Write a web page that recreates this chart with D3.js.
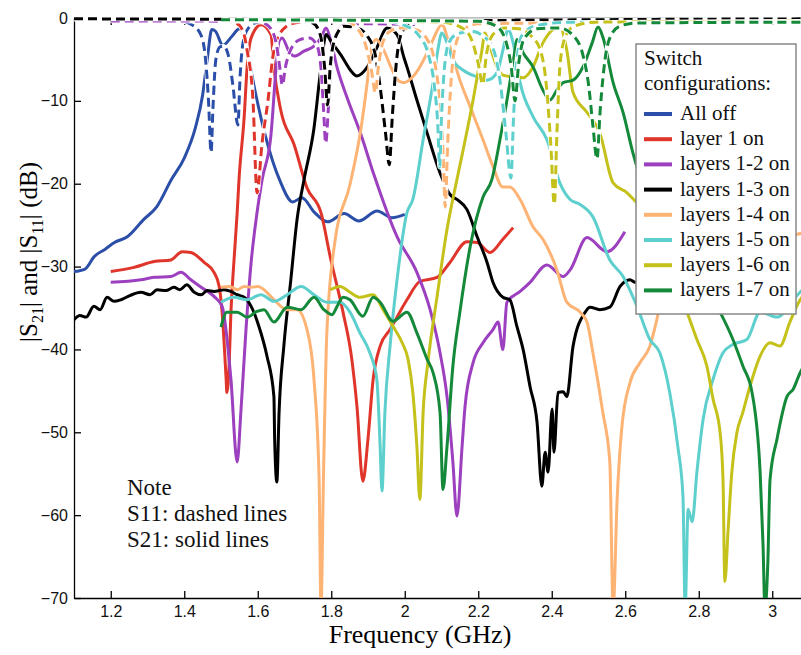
<!DOCTYPE html>
<html>
<head>
<meta charset="utf-8">
<script src="https://cdn.jsdelivr.net/npm/d3@7"></script>
<style>
  body { margin: 0; background: #fff; }
  svg { display: block; }
</style>
</head>
<body>
<script>
// frequency (GHz), level (dB)
const configNames = ["All off", "layer 1 on", "layers 1-2 on", "layers 1-3 on",
  "layers 1-4 on", "layers 1-5 on", "layers 1-6 on", "layers 1-7 on"];
const configColors = ["#2b4fa8", "#e0352b", "#9c40bf", "#000000",
  "#fdb374", "#5dcfcd", "#c5c11b", "#14893a"];

const s21AllOff = [[1.10,-30.6],[1.13,-30.3],[1.155,-28.8],[1.185,-27.9],[1.21,-27.1],[1.245,-26.4],
  [1.29,-24.3],[1.325,-22.8],[1.365,-19.5],[1.40,-16.9],[1.43,-13.3],[1.45,-9.3],[1.463,-4.8],
  [1.475,-1.4],[1.485,-1.6],[1.505,-3.3],[1.53,-2.2],[1.55,-1.3],[1.565,-2.5],[1.578,-5.5],
  [1.595,-9.3],[1.62,-14.1],[1.66,-19.6],[1.695,-22.2],[1.72,-21.7],[1.755,-23.5],[1.79,-24.6],
  [1.835,-23.6],[1.875,-24.5],[1.925,-23.3],[1.965,-24.1],[2.0,-23.7]];
const s11AllOff = [[1.10,-0.15],[1.30,-0.15],[1.38,-0.3],[1.42,-0.8],[1.445,-2],[1.458,-5],
  [1.466,-10],[1.473,-16.2],[1.478,-11],[1.486,-5],[1.497,-3.5],[1.507,-3.4],[1.52,-4.5],
  [1.532,-8],[1.546,-12.9],[1.552,-7],[1.56,-3],[1.575,-1.2],[1.6,-0.5],[1.7,-0.3],[2.0,-0.3]];

const s21Layer1 = [[1.20,-30.6],[1.263,-30.1],[1.318,-29.4],[1.364,-29.2],[1.394,-28.2],[1.418,-28.3],
  [1.454,-29.5],[1.481,-30.7],[1.495,-32.4],[1.503,-35.5],[1.514,-43.6],[1.516,-45.2],[1.522,-42],
  [1.527,-35.5],[1.535,-29.5],[1.544,-23.5],[1.549,-19.5],[1.563,-12],[1.571,-6],[1.582,-2.4],
  [1.609,-0.8],[1.636,-2],[1.644,-6],[1.663,-11.2],[1.699,-15.3],[1.734,-20.5],[1.772,-23.5],
  [1.799,-29.2],[1.832,-35.5],[1.856,-41.2],[1.87,-46.9],[1.886,-55.9],[1.9,-50.8],[1.914,-43.6],
  [1.933,-39.6],[1.96,-37.6],[2.006,-34],[2.041,-31.8],[2.088,-31.3],[2.123,-29.5],[2.169,-27],
  [2.197,-27.1],[2.232,-28.3],[2.267,-26.7],[2.295,-25.3]];
const s11Layer1 = [[1.20,-0.3],[1.50,-0.3],[1.54,-0.6],[1.56,-1.6],[1.571,-3.9],[1.587,-9.9],
  [1.598,-21.1],[1.612,-15],[1.628,-9.9],[1.641,-4.7],[1.661,-1.8],[1.70,-0.6],[1.8,-0.3],[2.3,-0.3]];

const s21Layers12 = [[1.20,-31.9],[1.282,-31.6],[1.318,-31.3],[1.364,-31.2],[1.391,-30.7],[1.418,-31.6],
  [1.446,-32.5],[1.481,-33.6],[1.503,-34.8],[1.527,-43.6],[1.544,-53.6],[1.554,-47.6],[1.568,-37.6],
  [1.582,-29.5],[1.598,-23.5],[1.612,-19.5],[1.636,-14.1],[1.65,-6],[1.658,-2.8],[1.666,-2.4],
  [1.685,-4],[1.699,-4.6],[1.726,-4],[1.753,-3.4],[1.772,-2.4],[1.786,-1.2],[1.799,-2.8],[1.816,-6],
  [1.843,-9.6],[1.881,-14.1],[1.916,-18.9],[1.979,-26.4],[2.033,-30.7],[2.069,-35.2],[2.096,-40.4],
  [2.115,-45.7],[2.131,-53.6],[2.142,-60.1],[2.156,-51.7],[2.164,-46.9],[2.186,-41.6],[2.213,-39.2],
  [2.24,-37.6],[2.254,-36.7],[2.267,-40],[2.278,-34.3],[2.314,-33],[2.341,-31.9],[2.387,-29.8],
  [2.431,-31.2],[2.45,-30.4],[2.496,-26.5],[2.55,-28.2],[2.599,-25.8]];
const s11Layers12 = [[1.20,-0.35],[1.60,-0.4],[1.63,-1],[1.65,-3],[1.66,-6],[1.667,-8.1],[1.675,-6],
  [1.69,-3.8],[1.715,-2.6],[1.74,-2.4],[1.76,-3.2],[1.772,-6],[1.779,-11],[1.785,-15.1],[1.792,-11],
  [1.80,-5],[1.815,-1.8],[1.84,-0.8],[1.9,-0.7],[2.03,-0.8]];

const s21Layers13 = [[1.10,-36.4],[1.116,-35.9],[1.133,-36.1],[1.154,-34.8],[1.171,-35.2],[1.19,-33.7],
  [1.209,-34.2],[1.228,-34],[1.252,-33.5],[1.282,-33.1],[1.307,-33.4],[1.326,-32.8],[1.35,-32.9],
  [1.372,-32.5],[1.388,-32.8],[1.407,-32.2],[1.427,-33.1],[1.446,-33.4],[1.462,-32.9],[1.481,-33],
  [1.508,-32.8],[1.527,-33],[1.544,-33.4],[1.563,-33.7],[1.582,-34.8],[1.603,-37.2],[1.625,-40.8],
  [1.644,-45.7],[1.646,-50.8],[1.652,-56],[1.658,-47.6],[1.671,-39.6],[1.69,-31.6],[1.707,-24.3],
  [1.726,-19.5],[1.753,-13.3],[1.772,-6],[1.786,-2],[1.799,-2.8],[1.827,-4.5],[1.854,-6.4],[1.87,-7],
  [1.897,-6],[1.924,-3.6],[1.952,-1.2],[1.979,-2],[1.998,-4.8],[2.006,-5.9],[2.033,-9.9],
  [2.061,-13.9],[2.096,-18.7],[2.123,-21.3],[2.142,-21.9],[2.169,-23.1],[2.197,-26.4],[2.224,-29.5],
  [2.24,-31.9],[2.267,-33.7],[2.286,-34],[2.305,-37.2],[2.322,-40],[2.341,-44.5],[2.36,-48.8],
  [2.373,-56.5],[2.382,-52.4],[2.39,-54.8],[2.401,-47.2],[2.406,-52.4],[2.417,-45.2],[2.431,-45.1],
  [2.441,-45.7],[2.458,-39.6],[2.491,-35.5],[2.504,-34.9],[2.531,-35.2],[2.558,-34.9],[2.586,-32.4],
  [2.613,-31.6],[2.627,-31.9],[2.695,-31.6]];
const s11Layers13 = [[1.10,-0.1],[1.70,-0.2],[1.75,-0.6],[1.77,-2],[1.782,-6],[1.79,-10.5],[1.797,-6],
  [1.81,-2.5],[1.835,-1],[1.87,-1.2],[1.90,-2.3],[1.92,-4.5],[1.935,-9],[1.948,-14],[1.958,-17.7],
  [1.966,-12],[1.978,-5],[1.995,-1.5],[2.04,-0.4],[3.10,-0.1]];

const s21Layers14 = [[1.50,-32.5],[1.524,-32.4],[1.544,-32.8],[1.563,-32.4],[1.582,-32.5],[1.601,-32.4],
  [1.617,-32.8],[1.644,-34],[1.68,-35.2],[1.707,-35.2],[1.734,-37.6],[1.753,-43.6],[1.767,-55.7],
  [1.772,-71.3],[1.779,-55],[1.788,-38],[1.81,-27],[1.851,-20.1],[1.881,-13.3],[1.897,-8.1],
  [1.908,-4],[1.922,-2.6],[1.944,-4],[1.963,-6],[1.984,-7.6],[1.998,-7.8],[2.022,-7.1],[2.061,-4.2],
  [2.077,-2.6],[2.101,-0.8],[2.123,-3.5],[2.15,-7.5],[2.178,-10.7],[2.213,-14.7],[2.24,-17.9],
  [2.267,-20.4],[2.286,-20.4],[2.314,-21.9],[2.349,-25.2],[2.376,-26.7],[2.414,-30.4],[2.441,-34.3],
  [2.477,-35.5],[2.496,-36.7],[2.512,-40.4],[2.539,-47.6],[2.558,-53.6],[2.567,-71.3],[2.578,-58],
  [2.591,-49.3],[2.613,-44],[2.64,-41.6],[2.667,-39.6],[2.686,-36.4],[2.7,-33.6],[2.858,-29.2],
  [3.067,-26.1],[3.1,-25.8]];
const s11Layers14 = [[1.50,-0.3],[1.84,-0.4],[1.87,-1.2],[1.895,-3.5],[1.91,-6.5],[1.92,-9],[1.928,-6],
  [1.94,-3],[1.96,-1.6],[1.99,-1.2],[2.03,-1.4],[2.06,-2.5],[2.08,-5],[2.095,-10],[2.105,-17],
  [2.11,-22.8],[2.117,-15],[2.127,-7],[2.14,-3],[2.16,-1.4],[2.2,-0.7],[3.1,-0.4]];

const s21Layers15 = [[1.50,-34.3],[1.535,-33.7],[1.571,-34],[1.609,-33.4],[1.644,-34.2],[1.68,-33.4],
  [1.718,-32.4],[1.753,-33.4],[1.788,-34.3],[1.824,-34.3],[1.851,-35.5],[1.878,-38],[1.905,-40.4],
  [1.924,-43.6],[1.933,-51.7],[1.938,-57.1],[1.946,-47.6],[1.96,-39.6],[1.979,-31.6],[2.006,-23.5],
  [2.022,-21.9],[2.05,-14.7],[2.077,-7.8],[2.09,-3.9],[2.101,-1.8],[2.115,-3],[2.131,-5.1],
  [2.159,-6.3],[2.197,-7.1],[2.224,-7.5],[2.251,-6.6],[2.267,-3.9],[2.281,-1.4],[2.295,-3],
  [2.314,-7.8],[2.349,-11.9],[2.387,-14.7],[2.422,-19.9],[2.45,-21.9],[2.477,-22.5],[2.512,-24],
  [2.558,-29.2],[2.594,-31.2],[2.632,-34.8],[2.667,-38.8],[2.694,-40.4],[2.721,-45.2],[2.743,-51.7],
  [2.757,-57.7],[2.763,-71.3],[2.771,-59.3],[2.782,-60.8],[2.795,-54.8],[2.812,-48.4],[2.839,-43.6],
  [2.866,-40.4],[2.893,-39.4],[2.931,-38.8],[2.967,-35.5],[3.013,-36.1],[3.057,-34],[3.1,-31.9]];
const s11Layers15 = [[1.50,-0.3],[1.95,-0.4],[2.0,-0.9],[2.04,-2.2],[2.065,-4.5],[2.08,-8],[2.09,-13],
  [2.095,-18],[2.1,-12],[2.108,-6],[2.12,-3],[2.14,-2],[2.18,-1.6],[2.22,-2.4],[2.245,-4.3],
  [2.26,-7.8],[2.275,-13.8],[2.289,-19.3],[2.296,-12],[2.305,-5],[2.32,-2],[2.36,-0.9],[2.45,-0.5],
  [3.1,-0.5]];

const s21Layers16 = [[1.797,-32.8],[1.824,-32.4],[1.851,-33.1],[1.878,-33.7],[1.914,-33.4],[1.941,-35.2],
  [1.968,-37.2],[1.993,-39.2],[2.009,-41.2],[2.022,-45.2],[2.033,-51.7],[2.041,-58.1],[2.05,-47.6],
  [2.063,-41.6],[2.088,-33.6],[2.115,-25.5],[2.142,-19.5],[2.159,-15.9],[2.186,-9.9],[2.21,-3.9],
  [2.218,-1.8],[2.232,-3.5],[2.251,-5.9],[2.267,-6.9],[2.295,-7.1],[2.322,-7.2],[2.349,-5.9],
  [2.376,-3],[2.403,-1.4],[2.422,-1.1],[2.441,-3.9],[2.458,-9],[2.496,-11.4],[2.531,-13.9],
  [2.567,-19.9],[2.605,-21.1],[2.64,-22.8],[2.768,-35.5],[2.795,-38.8],[2.822,-42],[2.839,-46],
  [2.858,-50],[2.866,-55.7],[2.871,-68],[2.88,-61.7],[2.89,-54.8],[2.904,-50],[2.92,-47.6],
  [2.939,-44.5],[2.967,-40.8],[2.994,-39.2],[3.021,-39.6],[3.048,-36.7],[3.076,-34],[3.1,-32.8]];
const s11Layers16 = [[1.80,-0.3],[2.1,-0.5],[2.16,-1.3],[2.185,-3],[2.2,-5.5],[2.212,-8],[2.222,-4.5],
  [2.24,-2],[2.27,-1.2],[2.31,-1.3],[2.345,-2.2],[2.37,-4],[2.385,-8],[2.397,-15],[2.407,-22.5],
  [2.414,-14],[2.422,-6],[2.435,-2.5],[2.46,-1],[2.52,-0.5],[3.1,-0.4]];

const s21Layers17 = [[1.50,-37.3],[1.516,-35.5],[1.544,-35.5],[1.571,-36.1],[1.598,-35.4],[1.617,-35.2],
  [1.644,-36.7],[1.68,-34.9],[1.718,-35.2],[1.753,-33.7],[1.78,-35.2],[1.802,-35.8],[1.816,-34.8],
  [1.832,-33.7],[1.851,-34],[1.886,-36],[1.914,-33.7],[1.933,-34.3],[1.968,-36.6],[2.006,-35.5],
  [2.033,-38],[2.061,-41.2],[2.077,-42.8],[2.096,-47.6],[2.104,-56.9],[2.115,-51.7],[2.131,-42],
  [2.15,-35.5],[2.178,-27.6],[2.213,-21.6],[2.237,-19.5],[2.259,-14.7],[2.286,-7.8],[2.3,-3.9],
  [2.305,-2.6],[2.322,-4.2],[2.349,-5.9],[2.376,-8.7],[2.395,-9.9],[2.414,-8.7],[2.431,-7.8],
  [2.458,-7.5],[2.485,-5.9],[2.51,-3],[2.526,-1.1],[2.539,-2.3],[2.567,-7.8],[2.594,-11.4],
  [2.621,-16.3],[2.632,-18],[2.749,-29.2],[2.858,-35.5],[2.893,-38.8],[2.92,-42],[2.945,-45.2],
  [2.967,-54.8],[2.975,-63.7],[2.98,-71.3],[2.988,-65.7],[2.994,-55.7],[3.013,-50.8],[3.04,-45.7],
  [3.057,-44.8],[3.076,-42.8],[3.1,-41.2]];
const s11Layers17 = [[1.50,-0.2],[2.2,-0.4],[2.25,-1],[2.275,-2.8],[2.29,-6],[2.3,-10],[2.31,-5.5],
  [2.325,-2.5],[2.36,-1.3],[2.42,-1.2],[2.46,-2.2],[2.485,-4.5],[2.5,-8],[2.512,-13],[2.523,-17],
  [2.532,-11],[2.545,-5],[2.56,-2.2],[2.585,-1],[2.63,-0.6],[3.1,-0.5]];

const s21Series = [s21AllOff, s21Layer1, s21Layers12, s21Layers13, s21Layers14, s21Layers15, s21Layers16, s21Layers17];
const s11Series = [s11AllOff, s11Layer1, s11Layers12, s11Layers13, s11Layers14, s11Layers15, s11Layers16, s11Layers17];

const xTicks = [1.2, 1.4, 1.6, 1.8, 2.0, 2.2, 2.4, 2.6, 2.8, 3.0];
const yTicks = [-70, -60, -50, -40, -30, -20, -10, 0];
const legendTitle = ["Switch", "configurations:"];
const noteLines = ["Note", "S11: dashed lines", "S21: solid lines"];

(function chart() {
  const W = 801, H = 655;
  const sans = "'Liberation Sans', Arial, sans-serif";
  const serif = "'Liberation Serif', 'Times New Roman', serif";

  const svg = d3.select("body").append("svg")
    .attr("width", W).attr("height", H);

  const x = d3.scaleLinear().domain([1.1, 3.1]).range([74, 809]);
  const y = d3.scaleLinear().domain([-70, 0]).range([598, 18]);

  svg.append("clipPath").attr("id", "plot-clip")
    .append("rect").attr("x", 74).attr("y", 14).attr("width", 740).attr("height", 584);

  // axes
  const fmt = d => String(+d.toFixed(1));
  const bottom = svg.append("g").attr("transform", "translate(0,598)")
    .call(d3.axisBottom(x).tickValues(xTicks).tickSize(-7).tickSizeOuter(0).tickPadding(8).tickFormat(fmt));
  const top = svg.append("g").attr("transform", "translate(0,18)")
    .call(d3.axisTop(x).tickValues(xTicks).tickSize(-7).tickSizeOuter(0).tickFormat(""));
  const left = svg.append("g").attr("transform", "translate(74,0)")
    .call(d3.axisLeft(y).tickValues(yTicks).tickSize(-7).tickSizeOuter(0).tickPadding(6));

  [bottom, top, left].forEach(g => {
    g.selectAll("path, line").attr("stroke", "#000").attr("stroke-width", 1.3);
    g.selectAll("text").attr("font-family", sans).attr("font-size", 16).attr("fill", "#111");
  });

  // curves
  const line = d3.line()
    .x(d => x(d[0]))
    .y(d => y(d[1]))
    .curve(d3.curveMonotoneX);

  const plot = svg.append("g").attr("clip-path", "url(#plot-clip)");

  plot.append("g").attr("class", "s21")
    .selectAll("path")
    .data(s21Series)
    .enter()
    .append("path")
    .attr("d", d => line(d))
    .attr("fill", "none")
    .attr("stroke", (d, i) => configColors[i])
    .attr("stroke-width", 3)
    .attr("stroke-linejoin", "round");

  const s11 = plot.append("g").attr("class", "s11")
    .selectAll("g")
    .data(s11Series)
    .enter()
    .append("g");
  s11.append("path")
    .attr("d", d => line(d))
    .attr("fill", "none")
    .attr("stroke", "#fff")
    .attr("stroke-width", 4.5);
  s11.append("path")
    .attr("d", d => line(d))
    .attr("fill", "none")
    .attr("stroke", (d, i) => configColors[i])
    .attr("stroke-width", 3)
    .attr("stroke-dasharray", "9,5");

  // axis titles
  svg.append("text")
    .attr("x", 420).attr("y", 643)
    .attr("text-anchor", "middle")
    .attr("font-family", serif).attr("font-size", 26)
    .text("Frequency (GHz)");

  const yl = svg.append("text")
    .attr("transform", "translate(37,252) rotate(-90)")
    .attr("text-anchor", "middle")
    .attr("font-family", serif).attr("font-size", 25);
  yl.append("tspan").text("|S");
  yl.append("tspan").attr("font-size", 16).attr("dy", 6).text("21");
  yl.append("tspan").attr("dy", -6).text("| and |S");
  yl.append("tspan").attr("font-size", 16).attr("dy", 6).text("11");
  yl.append("tspan").attr("dy", -6).text("| (dB)");

  // note
  svg.append("g").selectAll("text")
    .data(noteLines)
    .enter()
    .append("text")
    .attr("x", 127)
    .attr("y", (d, i) => 495 + i * 26)
    .attr("font-family", serif).attr("font-size", 23)
    .attr("fill", "#111")
    .text(d => d);

  // legend
  const legend = svg.append("g").attr("class", "legend");
  legend.append("rect")
    .attr("x", 636).attr("y", 44).attr("width", 160).attr("height", 270)
    .attr("fill", "#fff").attr("stroke", "#888").attr("stroke-width", 1.5);
  legend.selectAll("text.title")
    .data(legendTitle)
    .enter()
    .append("text")
    .attr("class", "title")
    .attr("x", 644)
    .attr("y", (d, i) => 65 + i * 25)
    .attr("font-family", serif).attr("font-size", 21)
    .attr("fill", "#111")
    .text(d => d);
  const items = legend.selectAll("g.item")
    .data(configNames)
    .enter()
    .append("g")
    .attr("class", "item")
    .attr("transform", (d, i) => `translate(0,${120 + i * 25.2})`);
  items.append("line")
    .attr("x1", 644).attr("x2", 672)
    .attr("y1", -6).attr("y2", -6)
    .attr("stroke", (d, i) => configColors[i])
    .attr("stroke-width", 4);
  items.append("text")
    .attr("x", 680).attr("y", 0)
    .attr("font-family", serif).attr("font-size", 21)
    .attr("fill", "#111")
    .text(d => d);
})();
</script>
</body>
</html>
